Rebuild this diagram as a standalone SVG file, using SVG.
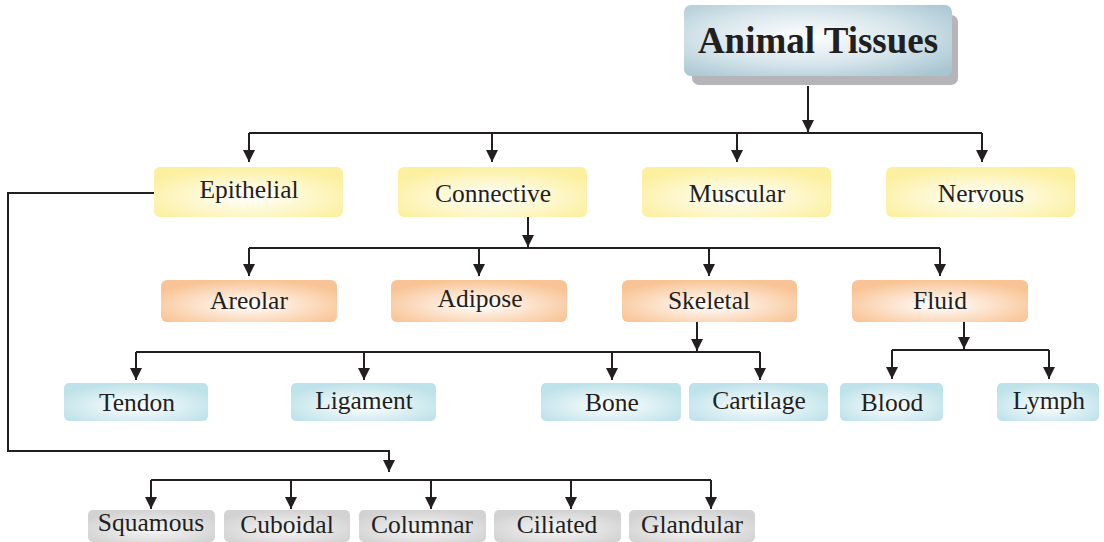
<svg xmlns="http://www.w3.org/2000/svg" width="1104" height="542" viewBox="0 0 1104 542">
  <defs>
    <radialGradient id="gTitle" cx="0.45" cy="0.45" r="0.7">
      <stop offset="0" stop-color="#ffffff"/>
      <stop offset="0.55" stop-color="#d6e5eb"/>
      <stop offset="1" stop-color="#a8c6d2"/>
    </radialGradient>
    <radialGradient id="gYellow" cx="0.5" cy="0.6" r="0.6">
      <stop offset="0" stop-color="#ffffff"/>
      <stop offset="1" stop-color="#fcf0a0"/>
    </radialGradient>
    <radialGradient id="gOrange" cx="0.5" cy="0.6" r="0.6">
      <stop offset="0" stop-color="#ffffff"/>
      <stop offset="1" stop-color="#f9c495"/>
    </radialGradient>
    <radialGradient id="gCyan" cx="0.5" cy="0.6" r="0.6">
      <stop offset="0" stop-color="#ffffff"/>
      <stop offset="1" stop-color="#bde2e9"/>
    </radialGradient>
    <radialGradient id="gGrey" cx="0.5" cy="0.6" r="0.6">
      <stop offset="0" stop-color="#f7f7f7"/>
      <stop offset="1" stop-color="#d2d2d3"/>
    </radialGradient>
    <marker id="arr" markerUnits="userSpaceOnUse" markerWidth="13" markerHeight="13" viewBox="0 0 13 13" refX="12" refY="6.5" orient="auto">
      <path d="M0,0.5 L12,6.5 L0,12.5 z" fill="#231f20"/>
    </marker>
  </defs>
  <style>
    .c { fill: none; stroke: #231f20; stroke-width: 2; }
    .a { fill: none; stroke: #231f20; stroke-width: 2; marker-end: url(#arr); }
    .t { font-family: "Liberation Serif", "Times New Roman", serif; font-size: 25.5px; fill: #231f20; text-anchor: middle; }
    .tt { font-family: "Liberation Serif", "Times New Roman", serif; font-size: 37px; font-weight: bold; fill: #231f20; text-anchor: middle; }
    .y { fill: url(#gYellow); }
    .o { fill: url(#gOrange); }
    .b { fill: url(#gCyan); }
    .g { fill: url(#gGrey); }
  </style>
  <rect width="1104" height="542" fill="#ffffff"/>

  <g id="connectors">
    <path class="a" d="M808,86 V132"/>
    <path class="c" d="M249,133 H982"/>
    <path class="a" d="M249,133 V162"/>
    <path class="a" d="M492,133 V162"/>
    <path class="a" d="M737,133 V162"/>
    <path class="a" d="M982,133 V162"/>

    <path class="a" d="M528,217 V247"/>
    <path class="c" d="M249,248 H940"/>
    <path class="a" d="M249,248 V276"/>
    <path class="a" d="M479,248 V276"/>
    <path class="a" d="M709,248 V276"/>
    <path class="a" d="M940,248 V276"/>

    <path class="a" d="M697,322 V351"/>
    <path class="c" d="M136,352 H760"/>
    <path class="a" d="M136,352 V380"/>
    <path class="a" d="M364,352 V380"/>
    <path class="a" d="M612,352 V380"/>
    <path class="a" d="M760,352 V380"/>

    <path class="a" d="M964,322 V349"/>
    <path class="c" d="M892,350 H1049"/>
    <path class="a" d="M892,350 V379"/>
    <path class="a" d="M1049,350 V379"/>

    <path class="a" d="M154,193 H8 V451 H389 V472"/>
    <path class="c" d="M151,480 H711"/>
    <path class="a" d="M151,480 V509"/>
    <path class="a" d="M291,480 V509"/>
    <path class="a" d="M431,480 V509"/>
    <path class="a" d="M571,480 V509"/>
    <path class="a" d="M711,480 V509"/>
  </g>

  <g id="animal-tissues">
    <rect x="692" y="15" width="266" height="70" rx="7" fill="#b5b5b9"/>
    <rect x="684" y="5" width="268" height="71" rx="7" fill="url(#gTitle)"/>
    <text class="tt" x="818" y="53">Animal Tissues</text>
  </g>

  <g id="epithelial"><rect class="y" x="154" y="167" width="189" height="50" rx="6"/><text class="t" x="249" y="198">Epithelial</text></g>
  <g id="connective"><rect class="y" x="398" y="167" width="189" height="50" rx="6"/><text class="t" x="493" y="202">Connective</text></g>
  <g id="muscular"><rect class="y" x="642" y="167" width="189" height="50" rx="6"/><text class="t" x="737" y="202">Muscular</text></g>
  <g id="nervous"><rect class="y" x="886" y="167" width="189" height="50" rx="6"/><text class="t" x="981" y="202">Nervous</text></g>

  <g id="areolar"><rect class="o" x="161" y="280" width="176" height="42" rx="6"/><text class="t" x="249" y="309">Areolar</text></g>
  <g id="adipose"><rect class="o" x="391" y="280" width="176" height="42" rx="6"/><text class="t" x="480" y="307">Adipose</text></g>
  <g id="skeletal"><rect class="o" x="622" y="280" width="175" height="42" rx="6"/><text class="t" x="709" y="309">Skeletal</text></g>
  <g id="fluid"><rect class="o" x="852" y="280" width="176" height="42" rx="6"/><text class="t" x="940" y="309">Fluid</text></g>

  <g id="tendon"><rect class="b" x="64" y="383" width="144" height="38" rx="5"/><text class="t" x="137" y="411">Tendon</text></g>
  <g id="ligament"><rect class="b" x="291" y="383" width="145" height="38" rx="5"/><text class="t" x="364" y="409">Ligament</text></g>
  <g id="bone"><rect class="b" x="541" y="383" width="140" height="38" rx="5"/><text class="t" x="612" y="411">Bone</text></g>
  <g id="cartilage"><rect class="b" x="689" y="383" width="139" height="38" rx="5"/><text class="t" x="759" y="409">Cartilage</text></g>
  <g id="blood"><rect class="b" x="840" y="383" width="103" height="38" rx="5"/><text class="t" x="892" y="411">Blood</text></g>
  <g id="lymph"><rect class="b" x="997" y="383" width="102" height="38" rx="5"/><text class="t" x="1049" y="409">Lymph</text></g>

  <g id="squamous"><rect class="g" x="88" y="510" width="127" height="32" rx="5"/><text class="t" x="151" y="531">Squamous</text></g>
  <g id="cuboidal"><rect class="g" x="224" y="510" width="126" height="32" rx="5"/><text class="t" x="287" y="533">Cuboidal</text></g>
  <g id="columnar"><rect class="g" x="359" y="510" width="127" height="32" rx="5"/><text class="t" x="422" y="533">Columnar</text></g>
  <g id="ciliated"><rect class="g" x="494" y="510" width="127" height="32" rx="5"/><text class="t" x="557" y="533">Ciliated</text></g>
  <g id="glandular"><rect class="g" x="629" y="510" width="126" height="32" rx="5"/><text class="t" x="692" y="533">Glandular</text></g>
</svg>
